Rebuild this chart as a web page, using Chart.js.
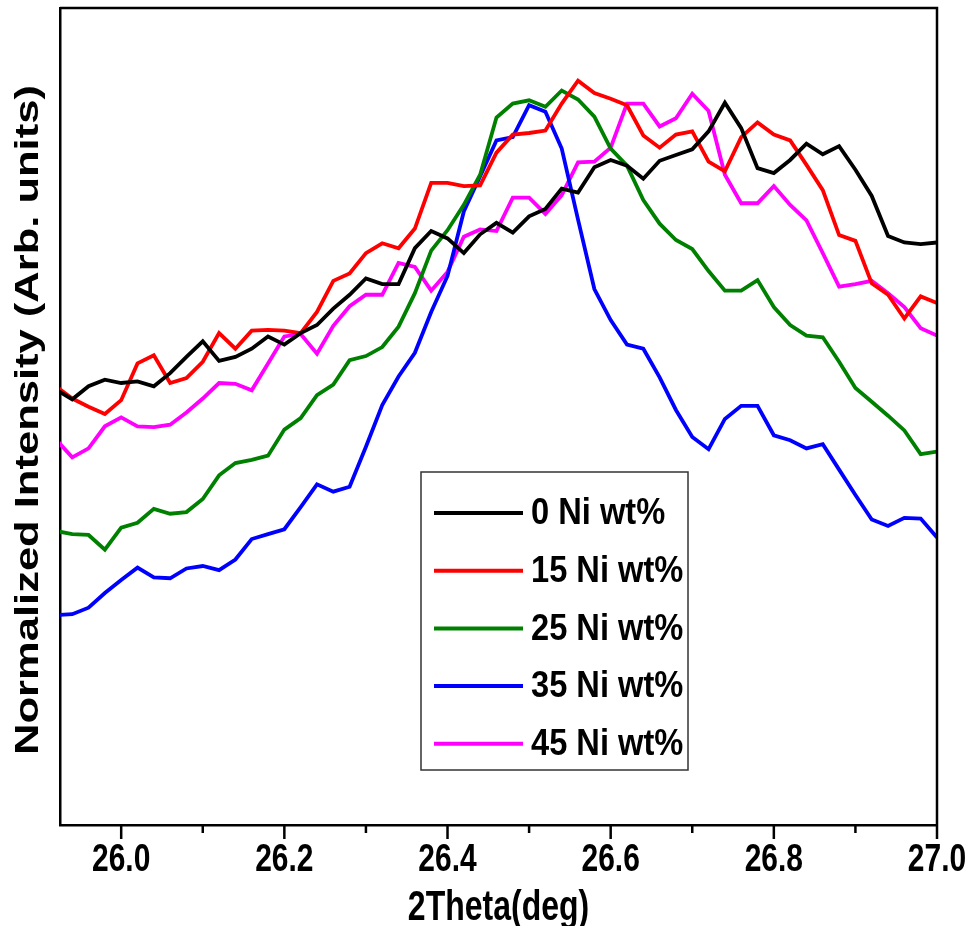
<!DOCTYPE html>
<html>
<head>
<meta charset="utf-8">
<script src="https://cdn.jsdelivr.net/npm/chart.js@4.4.0/dist/chart.umd.min.js"></script>
<style>
  html, body { margin: 0; padding: 0; background: #fff; }
  #c { display: block; }
</style>
</head>
<body>
<canvas id="c" width="971" height="926"></canvas>
<script>
'use strict';
// ============================================================
// XRD (002) PEAK - NORMALIZED INTENSITY vs 2THETA
// ============================================================
var theta = [25.92, 25.94, 25.96, 25.98, 26.00, 26.02, 26.04, 26.06, 26.08, 26.10,
             26.12, 26.14, 26.16, 26.18, 26.20, 26.22, 26.24, 26.26, 26.28, 26.30,
             26.32, 26.34, 26.36, 26.38, 26.40, 26.42, 26.44, 26.46, 26.48, 26.50,
             26.52, 26.54, 26.56, 26.58, 26.60, 26.62, 26.64, 26.66, 26.68, 26.70,
             26.72, 26.74, 26.76, 26.78, 26.80, 26.82, 26.84, 26.86, 26.88, 26.90,
             26.92, 26.94, 26.96, 26.98, 27.00];

var ni0  = [53.3, 52.1, 53.7, 54.5, 54.1, 54.3, 53.7, 55.3, 57.3, 59.2,
            56.8, 57.3, 58.3, 59.8, 58.8, 60.2, 61.2, 63.2, 64.9, 66.9,
            66.2, 66.2, 70.6, 72.7, 71.8, 70.0, 72.3, 73.7, 72.5, 74.5,
            75.4, 77.9, 77.4, 80.5, 81.4, 80.7, 79.1, 81.3, 82.0, 82.7,
            84.9, 88.4, 85.3, 80.4, 79.8, 81.4, 83.4, 82.1, 83.1, 80.2,
            77.0, 72.1, 71.3, 71.1, 71.3];

var ni15 = [53.7, 52.2, 51.2, 50.3, 52.0, 56.5, 57.5, 54.1, 54.7, 56.7,
            60.2, 58.3, 60.5, 60.6, 60.5, 60.2, 62.8, 66.6, 67.5, 70.0,
            71.2, 70.6, 73.0, 78.6, 78.6, 78.2, 78.3, 82.3, 84.5, 84.7,
            85.0, 88.3, 91.1, 89.6, 88.9, 88.1, 84.4, 82.9, 84.5, 84.9,
            81.2, 80.0, 84.2, 86.0, 84.5, 83.8, 80.8, 77.7, 72.2, 71.5,
            66.3, 64.9, 62.0, 64.7, 63.9];

var ni25 = [36.0, 35.6, 35.5, 33.7, 36.4, 37.0, 38.7, 38.1, 38.3, 39.9,
            42.8, 44.3, 44.7, 45.2, 48.4, 49.8, 52.6, 53.9, 56.9, 57.4,
            58.5, 61.0, 65.1, 70.3, 72.8, 75.9, 79.6, 86.6, 88.3, 88.7,
            87.9, 89.9, 88.8, 86.7, 82.8, 80.7, 76.5, 73.6, 71.6, 70.5,
            67.8, 65.4, 65.4, 66.7, 63.4, 61.2, 59.9, 59.7, 56.7, 53.5,
            51.8, 50.1, 48.3, 45.4, 45.7];

var ni35 = [25.7, 25.8, 26.6, 28.4, 30.0, 31.5, 30.3, 30.2, 31.4, 31.7,
            31.2, 32.5, 35.0, 35.6, 36.2, 38.9, 41.7, 40.8, 41.4, 46.3,
            51.4, 54.9, 57.8, 62.8, 67.2, 75.1, 79.4, 83.8, 84.2, 88.1,
            87.3, 82.8, 74.1, 65.6, 61.8, 58.8, 58.3, 54.8, 50.8, 47.5,
            46.0, 49.7, 51.3, 51.3, 47.7, 47.1, 46.1, 46.6, 43.5, 40.4,
            37.4, 36.6, 37.6, 37.5, 35.2];

var ni45 = [47.2, 45.0, 46.1, 48.8, 49.9, 48.8, 48.7, 49.0, 50.5, 52.2,
            54.1, 54.0, 53.2, 56.5, 59.8, 60.1, 57.7, 61.1, 63.5, 64.9,
            64.9, 68.8, 68.3, 65.4, 67.7, 72.0, 72.9, 72.7, 76.8, 76.8,
            74.8, 77.1, 81.1, 81.2, 82.9, 88.3, 88.3, 85.5, 86.5, 89.5,
            87.4, 79.6, 76.1, 76.1, 78.2, 75.9, 74.0, 70.0, 65.9, 66.2,
            66.6, 65.1, 63.4, 60.8, 59.9];

var labels = ['0 Ni wt%', '15 Ni wt%', '25 Ni wt%', '35 Ni wt%', '45 Ni wt%'];
var series = [ni0, ni15, ni25, ni35, ni45];
var colors = ['#000000', '#ff0000', '#008000', '#0000ff', '#ff00ff'];
var xTitle = '2Theta(deg)';
var yTitle = 'Normalized Intensity (Arb. units)';

var FONT = "'Liberation Sans', Arial, sans-serif";

function pts(arr) {
  return theta.map(function(t, i) { return {x: t, y: arr[i]}; });
}

// text stretched along x/y (the original figure has tall, narrow lettering)
function stretchText(ctx, txt, x, y, sx, sy, rot, align) {
  ctx.save();
  ctx.translate(x, y);
  if (rot) ctx.rotate(rot);
  ctx.scale(sx, sy);
  ctx.textAlign = align || 'center';
  ctx.textBaseline = 'middle';
  ctx.fillText(txt, 0, 0);
  ctx.restore();
}

var datasets = series.map(function(s, i) {
  return {
    label: labels[i], data: pts(s),
    borderColor: colors[i], backgroundColor: colors[i],
    borderWidth: 3.8, pointRadius: 0, tension: 0, fill: false
  };
});

var decoPlugin = {
  id: 'deco',
  afterDraw: function(chart) {
    var a = chart.chartArea, ctx = chart.ctx, xs = chart.scales.x;
    ctx.save();
    // top/right frame
    ctx.strokeStyle = '#000'; ctx.lineWidth = 2.5;
    ctx.beginPath();
    ctx.moveTo(a.left, a.top); ctx.lineTo(a.right, a.top); ctx.lineTo(a.right, a.bottom);
    ctx.stroke();

    // x ticks: major every 0.2 labelled, minor in between
    ctx.fillStyle = '#000';
    ctx.font = 'bold 30px ' + FONT;
    xs.ticks.forEach(function(t) {
      var px = xs.getPixelForValue(t.value);
      var major = Math.round(t.value * 10) % 2 === 0;
      ctx.lineWidth = 2.5;
      ctx.beginPath(); ctx.moveTo(px, a.bottom); ctx.lineTo(px, a.bottom + (major ? 14 : 8)); ctx.stroke();
      if (major) stretchText(ctx, t.value.toFixed(1), px, 860, 1, 1.3);
    });

    // axis titles
    ctx.font = 'bold 32px ' + FONT;
    stretchText(ctx, xTitle, (a.left + a.right) / 2, 909, 1, 1.3);
    ctx.font = 'bold 34px ' + FONT;
    stretchText(ctx, yTitle, 29, 420, 1.28, 1, -Math.PI / 2);

    // legend box
    var bx = 421, by = 472, bw = 267, bh = 298;
    ctx.fillStyle = '#fff'; ctx.fillRect(bx, by, bw, bh);
    ctx.strokeStyle = '#333'; ctx.lineWidth = 1.5; ctx.strokeRect(bx, by, bw, bh);
    ctx.font = 'bold 32px ' + FONT;
    chart.data.datasets.forEach(function(d, i) {
      var y = 513 + i * 57.7;
      ctx.strokeStyle = d.borderColor; ctx.lineWidth = 4;
      ctx.beginPath(); ctx.moveTo(434, y); ctx.lineTo(523, y); ctx.stroke();
      ctx.fillStyle = '#000';
      stretchText(ctx, d.label, 531, y + 1, 1.02, 1.15, 0, 'left');
    });
    ctx.restore();
  }
};

new Chart(document.getElementById('c'), {
  type: 'line',
  data: {datasets: datasets},
  plugins: [decoPlugin],
  options: {
    responsive: false, animation: false,
    layout: {padding: {top: 8, right: 34, left: 0, bottom: 0}},
    plugins: {legend: {display: false}, tooltip: {enabled: false}},
    scales: {
      x: {
        type: 'linear', min: 25.925, max: 27.0,
        afterFit: function(s) { s.height = 101; },
        ticks: {stepSize: 0.1, includeBounds: false, display: false, autoSkip: false},
        grid: {display: false},
        border: {display: true, color: '#000', width: 2.5}
      },
      y: {
        min: 0, max: 100,
        afterFit: function(s) { s.width = 60; },
        ticks: {display: false},
        grid: {display: false},
        border: {display: true, color: '#000', width: 2.5}
      }
    }
  }
});
</script>
</body>
</html>
